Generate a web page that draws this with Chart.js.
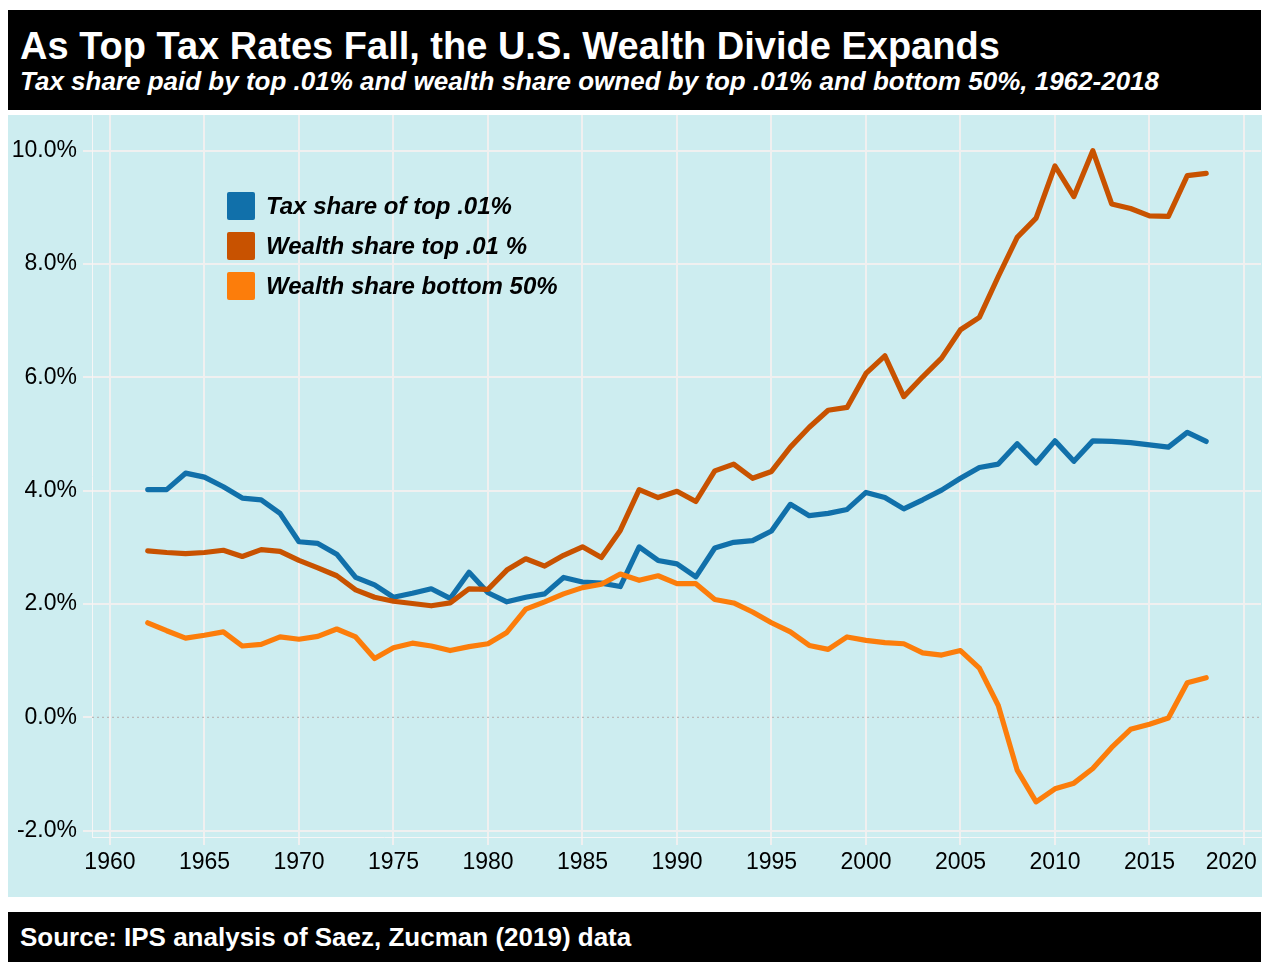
<!DOCTYPE html>
<html>
<head>
<meta charset="utf-8">
<title>As Top Tax Rates Fall, the U.S. Wealth Divide Expands</title>
<script src="https://cdn.jsdelivr.net/npm/chart.js@4.4.1/dist/chart.umd.min.js"></script>
<style>
  body { margin: 0; background: #fff; font-family: "Liberation Sans", Arial, sans-serif; }
  #page { position: relative; width: 1276px; height: 974px; }
  .band { position: absolute; left: 8px; width: 1253px; background: #000; color: #fff; }
  #header { top: 10px; height: 100px; }
  #footer { top: 912px; height: 50px; }
  .txt { position: absolute; left: 12px; white-space: nowrap; font-weight: bold; line-height: 1; }
  #title { top: 17px; font-size: 38px; }
  #subtitle { top: 58px; font-size: 26px; font-style: italic; }
  #source { top: 12px; font-size: 26px; }
  #panel { position: absolute; left: 8px; top: 115px; width: 1254px; height: 782px; background: #cdedf0; }
</style>
</head>
<body>
<div id="page">
  <div id="header" class="band">
    <div id="title" class="txt">As Top Tax Rates Fall, the U.S. Wealth Divide Expands</div>
    <div id="subtitle" class="txt">Tax share paid by top .01% and wealth share owned by top .01% and bottom 50%, 1962-2018</div>
  </div>
  <div id="panel"><canvas id="chart"></canvas></div>
  <div id="footer" class="band">
    <div id="source" class="txt">Source: IPS analysis of Saez, Zucman (2019) data</div>
  </div>
</div>
<script>
    "use strict";

    var years = [1962, 1963, 1964, 1965, 1966, 1967, 1968, 1969, 1970, 1971,
                 1972, 1973, 1974, 1975, 1976, 1977, 1978, 1979, 1980, 1981,
                 1982, 1983, 1984, 1985, 1986, 1987, 1988, 1989, 1990, 1991,
                 1992, 1993, 1994, 1995, 1996, 1997, 1998, 1999, 2000, 2001,
                 2002, 2003, 2004, 2005, 2006, 2007, 2008, 2009, 2010, 2011,
                 2012, 2013, 2014, 2015, 2016, 2017, 2018];

    // percent values
    var taxTop = [4.02, 4.02, 4.31, 4.24, 4.07, 3.87, 3.84, 3.60, 3.10, 3.07,
                  2.88, 2.47, 2.34, 2.12, 2.19, 2.27, 2.10, 2.56, 2.20, 2.04,
                  2.12, 2.18, 2.47, 2.39, 2.37, 2.31, 3.01, 2.77, 2.71, 2.48,
                  2.99, 3.09, 3.12, 3.29, 3.76, 3.56, 3.60, 3.67, 3.97, 3.88,
                  3.68, 3.84, 4.01, 4.22, 4.41, 4.47, 4.83, 4.49, 4.88, 4.52,
                  4.88, 4.87, 4.85, 4.81, 4.77, 5.03, 4.87];

    var wealthTop = [2.94, 2.91, 2.89, 2.91, 2.95, 2.84, 2.96, 2.93, 2.77, 2.64,
                     2.50, 2.25, 2.12, 2.05, 2.01, 1.97, 2.02, 2.27, 2.26, 2.60,
                     2.80, 2.67, 2.86, 3.01, 2.82, 3.30, 4.02, 3.88, 3.99, 3.81,
                     4.35, 4.47, 4.22, 4.34, 4.77, 5.12, 5.42, 5.47, 6.07, 6.38,
                     5.66, 6.01, 6.34, 6.84, 7.06, 7.78, 8.47, 8.81, 9.73, 9.19,
                     10.00, 9.06, 8.98, 8.85, 8.84, 9.56, 9.60];

    var wealthBottom = [1.67, 1.53, 1.40, 1.45, 1.51, 1.26, 1.29, 1.42, 1.38, 1.43,
                        1.56, 1.42, 1.04, 1.23, 1.31, 1.26, 1.18, 1.25, 1.30, 1.50,
                        1.91, 2.04, 2.18, 2.29, 2.35, 2.53, 2.42, 2.50, 2.36, 2.36,
                        2.08, 2.02, 1.86, 1.67, 1.51, 1.27, 1.20, 1.42, 1.36, 1.32,
                        1.30, 1.14, 1.10, 1.18, 0.87, 0.21, -0.93, -1.49, -1.26, -1.16,
                        -0.90, -0.53, -0.21, -0.12, -0.01, 0.61, 0.70];

    var yearTicks = [1960, 1965, 1970, 1975, 1980, 1985, 1990, 1995, 2000, 2005, 2010, 2015, 2020];
    var pctTicks = [-2, 0, 2, 4, 6, 8, 10];

    var seriesNames = ['Tax share of top .01%', 'Wealth share top .01 %', 'Wealth share bottom 50%'];
    var seriesColors = ['#1170aa', '#c85200', '#fc7d0b'];

    var fontFamily = '"Liberation Sans", Arial, sans-serif';
    var gridColor = '#f0f0f0';

    function toPoints(vals) {
        return years.map(function(yr, i) {
            return { x: yr, y: vals[i] };
        });
    }

    function lineSet(idx, vals, order) {
        return {
            label: seriesNames[idx],
            data: toPoints(vals),
            borderColor: seriesColors[idx],
            backgroundColor: seriesColors[idx],
            borderWidth: 5.2,
            borderCapStyle: 'round',
            borderJoinStyle: 'round',
            pointRadius: 0,
            tension: 0,
            order: order
        };
    }

    //* dotted zero line under the series
    var zeroLine = {
        id: 'zeroLine',
        beforeDatasetsDraw: function(chart) {
            var ctx = chart.ctx, area = chart.chartArea;
            var y = chart.scales.y.getPixelForValue(0);
            ctx.save();
            ctx.strokeStyle = '#b9b9b9';
            ctx.lineWidth = 1.2;
            ctx.setLineDash([2, 3]);
            ctx.beginPath();
            ctx.moveTo(area.left, y);
            ctx.lineTo(area.right, y);
            ctx.stroke();
            ctx.restore();
        }
    };

    //* legend drawn inside the plot, top left
    var insideLegend = {
        id: 'insideLegend',
        afterDraw: function(chart) {
            var ctx = chart.ctx;
            ctx.save();
            ctx.font = 'italic bold 24px ' + fontFamily;
            ctx.textBaseline = 'middle';
            chart.data.datasets.forEach(function(ds, i) {
                var top = 77 + i * 40;
                ctx.fillStyle = ds.borderColor;
                ctx.beginPath();
                ctx.roundRect(219, top, 28, 28, 2);
                ctx.fill();
                ctx.fillStyle = '#000';
                ctx.fillText(ds.label, 258, top + 15);
            });
            ctx.restore();
        }
    };

    var ctx = document.getElementById('chart').getContext('2d');
    var chart = new Chart(ctx, {
        type: 'line',
        data: {
            datasets: [
                lineSet(0, taxTop, 2),
                lineSet(1, wealthTop, 1),
                lineSet(2, wealthBottom, 0)
            ]
        },
        options: {
            responsive: true,
            maintainAspectRatio: false,
            animation: false,
            layout: { padding: { left: 0, right: 1, top: 0, bottom: 0 } },
            plugins: {
                legend: { display: false },
                tooltip: { enabled: false }
            },
            scales: {
                x: {
                    type: 'linear',
                    min: 1959.05,
                    max: 2020.9,
                    afterBuildTicks: function(scale) {
                        scale.ticks = yearTicks.map(function(v) { return { value: v }; });
                    },
                    afterFit: function(scale) {
                        scale.height = 60;
                        scale.paddingLeft = 0;
                        scale.paddingRight = 0;
                    },
                    grid: { color: gridColor, lineWidth: 2, tickLength: 8, tickColor: gridColor },
                    border: { color: '#f6f6f6', width: 1 },
                    ticks: {
                        color: '#000',
                        font: { family: fontFamily, size: 23 },
                        padding: 4,
                        maxRotation: 0,
                        autoSkip: false,
                        callback: function(v) {
                            // last label sits a little left of its tick, as in the source
                            return v === 2020 ? '2020    ' : String(v);
                        }
                    }
                },
                y: {
                    min: -2.11,
                    max: 10.63,
                    afterBuildTicks: function(scale) {
                        scale.ticks = pctTicks.map(function(v) { return { value: v }; });
                    },
                    afterFit: function(scale) {
                        scale.width = 84;
                        scale.paddingTop = 0;
                        scale.paddingBottom = 0;
                    },
                    grid: {
                        color: function(c) {
                            return (c.tick && c.tick.value === 0) ? 'rgba(0,0,0,0)' : gridColor;
                        },
                        lineWidth: 2,
                        tickLength: 9,
                        tickColor: gridColor
                    },
                    border: { color: '#f6f6f6', width: 1 },
                    ticks: {
                        color: '#000',
                        font: { family: fontFamily, size: 23 },
                        padding: 6,
                        callback: function(v) { return v.toFixed(1) + '%'; }
                    }
                }
            }
        },
        plugins: [zeroLine, insideLegend]
    });
</script>
</body>
</html>
